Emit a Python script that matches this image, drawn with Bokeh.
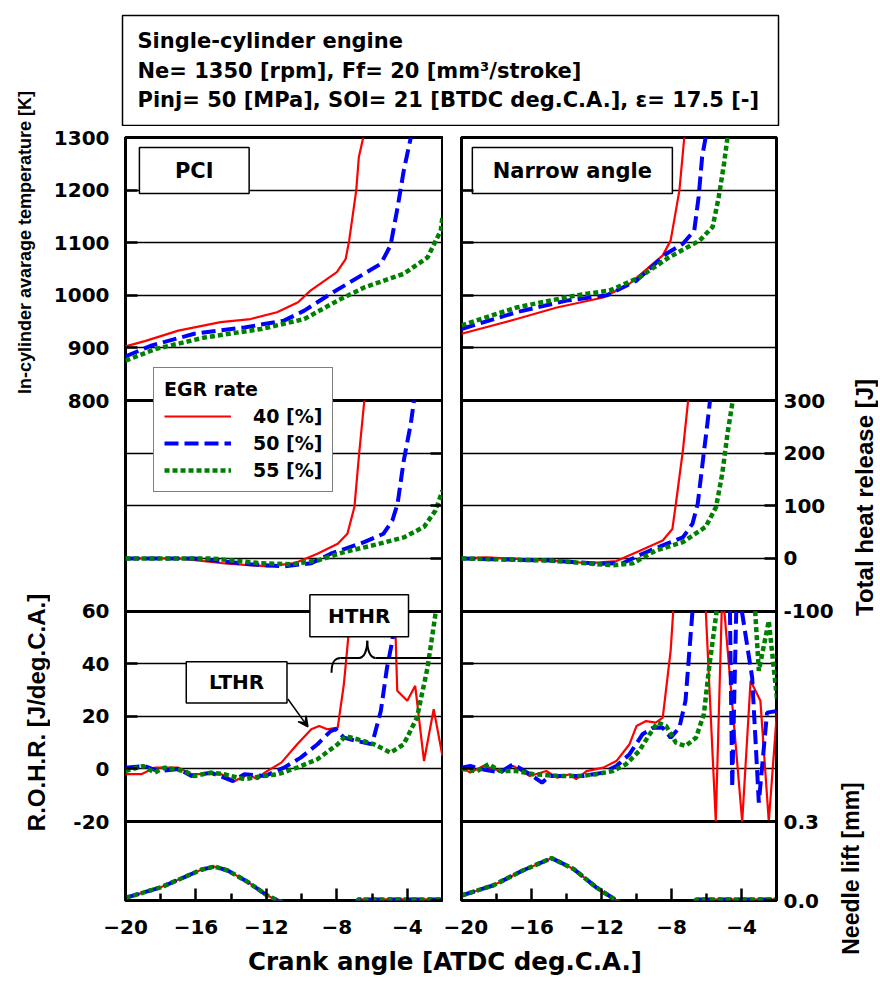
import math
from bokeh.plotting import figure
from bokeh.models import (Range1d, LinearAxis, FixedTicker, Grid, Legend, LegendItem,
                          Arrow, VeeHead)
from bokeh.layouts import row, column
from bokeh.embed import file_html
from bokeh.resources import INLINE
from bokeh.core.properties import value

nan = float("nan")

# ------------------------------------------------------------------ data
EGR_LABELS = ["40 [%]", "50 [%]", "55 [%]"]
TEMP_TICKS = [800, 900, 1000, 1100, 1200, 1300]
THR_TICKS = [-100, 0, 100, 200, 300]
ROHR_TICKS = [-20, 0, 20, 40, 60]
NEEDLE_TICKS = [0.0, 0.3]
NEEDLE_TICK_LABELS = ["0.0", "0.3"]
X_MAJOR = [-20, -16, -12, -8, -4]
X_MINOR = [-18, -14, -10, -6, -2]

# --- PCI : in-cylinder average temperature [K]
PCI_TEMP_CA_40 = [-20.0, -18.9, -17.0, -14.6, -12.9, -11.4, -10.2, -9.5, -8.0, -7.5, -7.3, -6.9, -6.75, -6.5]
PCI_TEMP_40 = [903, 913, 933, 949, 955, 968, 987, 1009, 1044, 1069, 1104, 1199, 1263, 1300]
PCI_TEMP_CA_50 = [-20.0, -18.5, -16.1, -13.25, -11.0, -9.85, -8.35, -6.45, -5.5, -4.95, -4.55, -4.2, -3.8]
PCI_TEMP_50 = [884, 905, 927, 939, 952, 971, 1003, 1041, 1060, 1095, 1167, 1237, 1300]
PCI_TEMP_CA_55 = [-20.0, -18.3, -15.5, -12.3, -9.85, -7.95, -6.45, -4.2, -2.85, -2.1, -2.0]
PCI_TEMP_55 = [876, 898, 920, 936, 955, 990, 1015, 1041, 1072, 1123, 1150]

# --- Narrow angle : temperature [K]
NA_TEMP_CA_40 = [-20.0, -16.85, -14.55, -11.9, -10.4, -8.5, -8.05, -7.55, -7.27]
NA_TEMP_40 = [927, 955, 977, 996, 1022, 1076, 1104, 1199, 1300]
NA_TEMP_CA_50 = [-20.0, -16.85, -14.0, -11.7, -10.0, -8.3, -7.35, -6.7, -6.45, -6.25, -6.05]
NA_TEMP_50 = [936, 968, 990, 1000, 1028, 1079, 1098, 1123, 1187, 1263, 1300]
NA_TEMP_CA_55 = [-20.0, -16.85, -13.45, -11.55, -9.85, -8.15, -6.4, -5.65, -5.3, -5.0, -4.8]
NA_TEMP_55 = [943, 977, 1000, 1009, 1034, 1072, 1104, 1130, 1187, 1250, 1300]

# --- PCI : total heat release [J]
PCI_THR_CA_40 = [-20.0, -17.0, -14.2, -11.9, -10.4, -9.1, -7.95, -7.4, -7.0, -6.75, -6.44]
PCI_THR_40 = [0, 0, -10, -15, -9, 9, 28, 47, 98, 193, 300]
PCI_THR_CA_50 = [-20.0, -16.1, -12.9, -11.0, -9.45, -8.35, -6.45, -5.35, -4.85, -4.55, -4.2, -3.8, -3.62]
PCI_THR_50 = [0, 0, -11, -15, -9, 9, 31, 47, 72, 104, 186, 256, 300]
PCI_THR_CA_55 = [-20.0, -15.1, -12.3, -10.6, -9.1, -7.6, -5.7, -4.2, -3.05, -2.4, -2.0]
PCI_THR_55 = [0, 0, -9, -11, -4, 12, 27, 40, 60, 91, 129]

# --- Narrow angle : total heat release [J]
NA_THR_CA_40 = [-20.0, -18.55, -14.95, -12.65, -11.15, -10.0, -8.5, -7.95, -7.75, -7.35, -7.05]
NA_THR_40 = [0, 2, -4, -9, -5, 12, 34, 56, 104, 205, 300]
NA_THR_CA_50 = [-20.0, -14.95, -12.1, -10.8, -9.65, -8.5, -7.35, -6.8, -6.5, -6.25, -5.95, -5.8]
NA_THR_50 = [0, -4, -10, -9, 9, 25, 40, 66, 104, 174, 256, 300]
NA_THR_CA_55 = [-20.0, -14.95, -11.35, -10.2, -8.9, -7.35, -6.05, -5.45, -5.1, -4.8, -4.5]
NA_THR_55 = [0, -4, -13, -9, 15, 31, 60, 98, 161, 237, 300]

# --- PCI : R.O.H.R. [J/deg.C.A.]  (nan = hidden / out of panel)
PCI_ROHR_CA_40 = [-20.0, -19.1, -18.35, -17.0, -16.25, -14.55, -13.8, -13.05, -12.5, -12.1, -11.15,
                  -10.25, -9.45, -9.0, -8.55, -7.95, -7.6, -7.35, -7.25, nan,
                  -4.72, -4.66, -4.57, -4.0, -3.55, -3.05, -2.5, -2.0]
PCI_ROHR_40 = [-2.0, -2.0, 0.5, 0.5, -2.0, -2.0, -4.6, -2.0, -3.9, -1.4, 2.4,
               9.4, 15.1, 16.3, 15.1, 15.7, 32.2, 50.0, 55.0, nan,
               55.0, 50.0, 29.7, 25.9, 31.6, 3.0, 22.7, 4.9]
PCI_ROHR_CA_50 = [-20.0, -18.9, -18.15, -17.0, -16.25, -15.15, -13.9, -13.25, -12.1, -11.0, -10.05,
                  -9.1, -8.35, -8.05, -7.6, -6.85, -6.0, -5.5, -5.15, -4.85, -4.75]
PCI_ROHR_50 = [0.5, 1.1, -0.8, 0.0, -2.7, -1.4, -4.6, -2.0, -2.7, 0.5, 4.3,
               9.4, 14.4, 15.1, 11.9, 10.6, 9.4, 22.1, 38.5, 48.7, 55.0]
PCI_ROHR_CA_55 = [-20.0, -19.0, -18.35, -17.8, -16.65, -16.1, -15.15, -14.4, -13.25, -12.5, -11.35,
                  -10.25, -9.1, -7.95, -7.5, -6.85, -5.9, -4.95, -4.2, -3.45, -2.85, -2.4, -2.36]
PCI_ROHR_55 = [-0.8, 1.1, -1.4, 0.5, -0.8, -2.7, -1.4, -2.0, -3.9, -3.0, -2.0,
               0.5, 3.7, 9.4, 12.5, 11.3, 9.4, 6.2, 9.4, 19.5, 38.5, 58.8, 60.0]

# --- Narrow angle : R.O.H.R. [J/deg.C.A.]
NA_ROHR_CA_40 = [-20.0, -19.5, -18.75, -17.8, -17.05, -16.1, -15.15, -14.55, -13.8, -13.45, -12.85,
                 -11.9, -11.15, -10.4, -10.0, -9.45, -8.9, -8.5, -8.05, -7.9, nan,
                 -6.04, -5.47, -5.13, nan, -4.98, -3.96, -3.48, -2.92, -2.44, -1.97]
NA_ROHR_40 = [0.5, -1.4, 1.1, -0.8, 1.1, -2.7, -0.8, -3.3, -2.0, -3.9, -0.8,
              0.5, 3.0, 9.4, 16.3, 18.2, 17.6, 19.5, 44.9, 60.0, nan,
              60.0, -20.0, 60.0, nan, 60.0, -20.0, 33.5, 25.9, -20.0, 22.0]
NA_ROHR_CA_50 = [-20.0, -19.5, -18.75, -17.8, -17.05, -16.1, -15.4, -14.95, -14.0, -13.05, -11.9,
                 -11.15, -10.4, -9.65, -9.05, -8.5, -8.05, -7.55, -7.2, -6.8, nan,
                 -4.66, -4.53, -4.3, nan, -3.98, -3.39, -3.01, -2.54, -1.97]
NA_ROHR_50 = [0.5, 1.1, -0.2, -1.4, 1.8, -2.0, -5.2, -2.7, -2.7, -2.7, -1.4,
              1.1, 5.6, 13.2, 15.7, 15.7, 11.9, 15.7, 25.9, 60.0, nan,
              60.0, -7.0, 60.0, nan, 60.0, 34.7, -12.8, 21.4, 22.0]
NA_ROHR_CA_55 = [-20.0, -19.1, -18.45, -17.8, -16.85, -15.9, -14.4, -13.25, -12.3, -11.35, -10.6,
                 -9.85, -9.25, -8.8, -8.3, -7.75, -7.2, -6.6, -6.15, -5.85, -5.47, -5.42, nan,
                 -3.22, -3.01, -2.44, -1.97]
NA_ROHR_55 = [0.0, -0.8, 1.8, -0.8, -0.8, -2.0, -2.7, -2.7, -2.0, -0.8, 1.8,
              6.8, 13.2, 17.6, 16.3, 10.0, 8.7, 11.9, 20.8, 38.5, 57.5, 60.0, nan,
              60.0, 37.3, 56.3, 26.5]

# --- needle lift [mm] (identical for the three EGR rates)
PCI_NEEDLE_CA = [-20.0, -18.0, -16.65, -15.7, -14.95, -14.2, -13.05, -11.95, -11.35, -11.0, -6.85, -6.8, -2.0]
PCI_NEEDLE = [0.01, 0.05, 0.089, 0.117, 0.129, 0.114, 0.07, 0.019, 0.0, -0.01, -0.01, 0.004, 0.004]
NA_NEEDLE_CA = [-20.0, -18.2, -16.5, -14.85, -13.6, -12.3, -11.15, -10.9, -6.7, -6.6, -2.0]
NA_NEEDLE = [0.019, 0.057, 0.114, 0.161, 0.12, 0.05, 0.0, -0.01, -0.01, 0.004, 0.004]

# ------------------------------------------------------------------ styles / layout
FONT = "DejaVu Sans"
SIDE_FONT = "Liberation Sans"
STYLES = [("#ff0000", 2.2, "solid"), ("#0000ff", 4.0, "14 6"), ("#008000", 4.5, "5 3")]

ROWS = 14.5  # frame height in grid steps
PANELS = {   # value range and vertical band (in grid steps from frame bottom)
    "temp": (800.0, 1300.0, 9.5, 14.5),
    "thr": (-100.0, 300.0, 5.5, 9.5),
    "rohr": (-20.0, 60.0, 1.5, 5.5),
    "needle": (0.0, 0.3, 0.0, 1.5),
}


def pscale(name):
    lo, hi, r0, r1 = PANELS[name]
    return (hi - lo) / (r1 - r0)


def prange(name):
    lo, hi, r0, r1 = PANELS[name]
    s = pscale(name)
    return Range1d(start=lo - r0 * s, end=lo + (ROWS - r0) * s)


def to_row(name, v):
    lo, hi, r0, r1 = PANELS[name]
    return round(r0 + (v - lo) / pscale(name), 6)


def no_grid(p):
    for g in p.grid:
        g.visible = False


def style_axis(ax):
    ax.axis_line_color = None
    ax.major_tick_in = 12
    ax.major_tick_out = 0
    ax.minor_tick_in = 7
    ax.minor_tick_out = 0
    ax.major_tick_line_width = 2.5
    ax.minor_tick_line_width = 2.5
    ax.major_tick_line_color = "black"
    ax.minor_tick_line_color = "black"
    ax.major_label_text_font = FONT
    ax.major_label_text_font_style = "bold"
    ax.major_label_text_color = "black"
    ax.major_label_text_font_size = "20px"


def build_column(is_left, temp, thr, rohr, needle):
    p = figure(width=393, height=822,
               x_range=Range1d(-20, -2), y_range=Range1d(0, ROWS),
               x_axis_location=None, y_axis_location=None,
               toolbar_location=None, output_backend="svg",
               min_border_left=74 if is_left else 18,
               min_border_right=1 if is_left else 57,
               min_border_top=11, min_border_bottom=48,
               outline_line_color="black", outline_line_width=3,
               background_fill_color="white", border_fill_color="white")
    no_grid(p)
    p.extra_y_ranges = {n: prange(n) for n in PANELS}

    xa = LinearAxis(ticker=FixedTicker(ticks=X_MAJOR, minor_ticks=X_MINOR))
    style_axis(xa)
    xa.major_label_standoff = 19
    p.add_layout(xa, "below")

    left_map = {}
    for t in ROHR_TICKS:
        left_map[to_row("rohr", t)] = str(t)
    for t in TEMP_TICKS:
        left_map[to_row("temp", t)] = str(t)
    la = LinearAxis(ticker=FixedTicker(ticks=sorted(left_map)))
    style_axis(la)
    if is_left:
        la.major_label_overrides = left_map
        la.major_label_standoff = 16
    else:
        la.major_label_overrides = {k: "" for k in left_map}
        la.major_label_standoff = 0
    p.add_layout(la, "left")

    right_map = {}
    for t, lab in zip(NEEDLE_TICKS, NEEDLE_TICK_LABELS):
        right_map[to_row("needle", t)] = lab
    for t in THR_TICKS:
        right_map[to_row("thr", t)] = str(t)
    ra = LinearAxis(ticker=FixedTicker(ticks=sorted(right_map)))
    style_axis(ra)
    if not is_left:
        ra.major_label_overrides = right_map
        ra.major_label_standoff = 7
    else:
        ra.major_label_overrides = {k: "" for k in right_map}
        ra.major_label_standoff = 0
    p.add_layout(ra, "right")

    for name, ticks in (("temp", TEMP_TICKS[1:-1]), ("thr", THR_TICKS[1:-1]), ("rohr", ROHR_TICKS[1:-1])):
        p.add_layout(Grid(dimension=1, ticker=FixedTicker(ticks=ticks), y_range_name=name,
                          grid_line_color="black", grid_line_width=1.5))
    borders = [to_row("temp", TEMP_TICKS[0]), to_row("thr", THR_TICKS[0]), to_row("rohr", ROHR_TICKS[0])]
    p.add_layout(Grid(dimension=1, ticker=FixedTicker(ticks=borders),
                      grid_line_color="black", grid_line_width=3))

    temp_r = []
    for (ca, v), (c, w, d) in zip(temp, STYLES):
        temp_r.append(p.line(ca, v, y_range_name="temp", line_color=c, line_width=w, line_dash=d))
    for (ca, v), (c, w, d) in zip(thr, STYLES):
        p.line(ca, v, y_range_name="thr", line_color=c, line_width=w, line_dash=d)
    for (ca, v), (c, w, d) in zip(rohr, STYLES):
        p.line(ca, v, y_range_name="rohr", line_color=c, line_width=w, line_dash=d)
    for c, w, d in STYLES:
        p.line(needle[0], needle[1], y_range_name="needle", line_color=c, line_width=w, line_dash=d)
    return p, temp_r


def add_box(p, rng, l, r, b, t, text, size="21px"):
    p.quad(left=[l], right=[r], bottom=[b], top=[t], y_range_name=rng,
           fill_color="white", line_color="black", line_width=1.5)
    p.text(x=[(l + r) / 2], y=[(b + t) / 2], text=[text], y_range_name=rng,
           text_font=value(FONT), text_font_style="bold", text_font_size=size,
           text_align="center", text_baseline="middle", text_color="black")


left, left_r = build_column(
    True,
    [(PCI_TEMP_CA_40, PCI_TEMP_40), (PCI_TEMP_CA_50, PCI_TEMP_50), (PCI_TEMP_CA_55, PCI_TEMP_55)],
    [(PCI_THR_CA_40, PCI_THR_40), (PCI_THR_CA_50, PCI_THR_50), (PCI_THR_CA_55, PCI_THR_55)],
    [(PCI_ROHR_CA_40, PCI_ROHR_40), (PCI_ROHR_CA_50, PCI_ROHR_50), (PCI_ROHR_CA_55, PCI_ROHR_55)],
    (PCI_NEEDLE_CA, PCI_NEEDLE))
right, _ = build_column(
    False,
    [(NA_TEMP_CA_40, NA_TEMP_40), (NA_TEMP_CA_50, NA_TEMP_50), (NA_TEMP_CA_55, NA_TEMP_55)],
    [(NA_THR_CA_40, NA_THR_40), (NA_THR_CA_50, NA_THR_50), (NA_THR_CA_55, NA_THR_55)],
    [(NA_ROHR_CA_40, NA_ROHR_40), (NA_ROHR_CA_50, NA_ROHR_50), (NA_ROHR_CA_55, NA_ROHR_55)],
    (NA_NEEDLE_CA, NA_NEEDLE))

# annotations
add_box(left, "temp", -19.21, -12.98, 1193.5, 1281, "PCI")
add_box(right, "temp", -19.38, -7.95, 1193.5, 1281, "Narrow angle")
add_box(left, "rohr", -16.55, -10.83, 25.1, 40.7, "LTHR", "20px")
add_box(left, "rohr", -9.53, -3.93, 50.2, 66.2, "HTHR", "20px")
left.add_layout(Arrow(end=VeeHead(size=10, line_color="black", line_width=1.5, fill_color="black"),
                      x_start=-10.78, y_start=26.6, x_end=-9.64, y_end=16.0,
                      y_range_name="rohr", line_color="black", line_width=1.5))
left.bezier(x0=[-8.30, -7.78, -6.74, -6.27, -5.80, -2.12],
            y0=[36.6, 42.2, 42.2, 48.7, 42.2, 42.2],
            x1=[-7.78, -6.74, -6.27, -5.80, -2.12, -1.64],
            y1=[42.2, 42.2, 48.7, 42.2, 42.2, 36.6],
            cx0=[-8.30, -7.4, -6.45, -6.27, -5.0, -1.8],
            cy0=[41.0, 42.2, 42.2, 45.0, 42.2, 42.2],
            cx1=[-8.10, -7.1, -6.27, -6.10, -3.0, -1.64],
            cy1=[42.2, 42.2, 45.0, 42.2, 42.2, 41.0],
            y_range_name="rohr", line_color="black", line_width=2)

legend = Legend(items=[LegendItem(label=lab, renderers=[r]) for lab, r in zip(EGR_LABELS, left_r)],
                location=(28, 408), title="EGR rate",
                title_text_font=FONT, title_text_font_style="bold", title_text_font_size="19px",
                title_text_color="black",
                label_text_font=FONT, label_text_font_style="bold", label_text_font_size="19px",
                label_text_color="black",
                glyph_width=67, glyph_height=20, label_height=20, spacing=5, padding=10,
                margin=0, label_standoff=22, title_standoff=5,
                border_line_color="black", border_line_width=1.5,
                background_fill_color="white", background_fill_alpha=1.0)
left.add_layout(legend)


def canvas(w, h):
    c = figure(width=w, height=h, x_range=Range1d(0, w), y_range=Range1d(h, 0),
               x_axis_location=None, y_axis_location=None, toolbar_location=None,
               output_backend="svg", min_border=0, outline_line_color=None,
               background_fill_color="white", border_fill_color="white")
    no_grid(c)
    return c


# title block (page x 50..836, y 0..126)
title = canvas(786, 126)
title.quad(left=[72], right=[728], top=[15], bottom=[125], fill_color=None,
           line_color="black", line_width=1.5)
title.text(x=[87, 87, 87], y=[40, 70, 99],
           text=["Single-cylinder engine",
                 "Ne= 1350 [rpm], Ff= 20 [mm\u00b3/stroke]",
                 "Pinj= 50 [MPa], SOI= 21 [BTDC deg.C.A.], \u03b5= 17.5 [-]"],
           text_font=value(FONT), text_font_style="bold", text_font_size="21px",
           text_align="left", text_baseline="middle", text_color="black")

# x axis title (page x 50..836, y 948..982)
xlab = canvas(786, 34)
xlab.text(x=[394.5], y=[13], text=["Crank angle [ATDC deg.C.A.]"],
          text_font=value(FONT), text_font_style="bold", text_font_size="24.5px",
          text_align="center", text_baseline="middle", text_color="black")

# left axis titles (page x 0..50)
strip_l = canvas(50, 982)
strip_l.text(x=[24], y=[242], text=["In-cylinder avarage temperature [K]"], angle=math.pi / 2,
             text_font=value(SIDE_FONT), text_font_style="bold", text_font_size="18px",
             text_align="center", text_baseline="middle", text_color="black")
strip_l.text(x=[36], y=[712], text=["R.O.H.R. [J/deg.C.A.]"], angle=math.pi / 2,
             text_font=value(SIDE_FONT), text_font_style="bold", text_font_size="24px",
             text_align="center", text_baseline="middle", text_color="black")

# right axis titles (page x 836..878)
strip_r = canvas(42, 982)
strip_r.text(x=[28], y=[497], text=["Total heat release [J]"], angle=math.pi / 2,
             text_font=value(SIDE_FONT), text_font_style="bold", text_font_size="24px",
             text_align="center", text_baseline="middle", text_color="black")
strip_r.text(x=[14], y=[868], text=["Needle lift [mm]"], angle=math.pi / 2,
             text_font=value(SIDE_FONT), text_font_style="bold", text_font_size="23px",
             text_align="center", text_baseline="middle", text_color="black")

page = row(strip_l, column(title, row(left, right), xlab), strip_r)
open("out.html", "w").write(file_html(page, INLINE))
